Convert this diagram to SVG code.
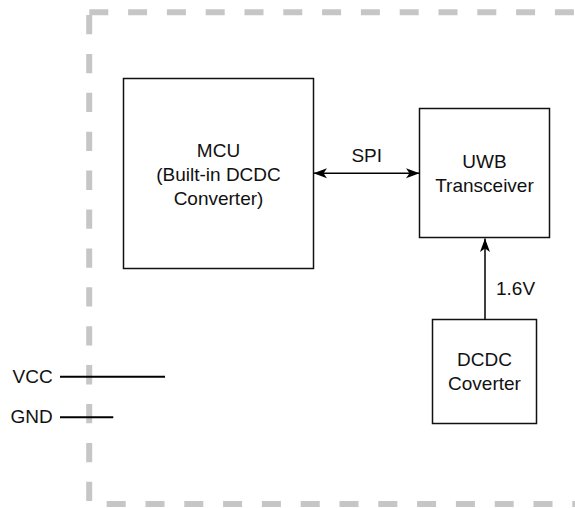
<svg xmlns="http://www.w3.org/2000/svg" width="575" height="508" viewBox="0 0 575 508">
  <style>
    .box { fill: #ffffff; stroke: #111111; stroke-width: 1.5; }
    .label { font-family: "Liberation Sans", Arial, Helvetica, sans-serif; font-size: 19px; fill: #111111; }
    .mid { text-anchor: middle; }
    .end { text-anchor: end; }
    .boundary { fill: none; stroke: #c6c6c6; stroke-width: 6; stroke-linecap: butt; }
    .wire { fill: none; stroke: #000000; stroke-width: 1.5; }
    .pin { fill: none; stroke: #000000; stroke-width: 2; }
  </style>
  <defs>
    <marker id="arrow" viewBox="0 0 14 12" refX="13.5" refY="6" markerWidth="14" markerHeight="12" markerUnits="userSpaceOnUse" orient="auto-start-reverse">
      <path d="M0 1 L13.5 6 L0 11 L3.5 6 Z" fill="#000000"/>
    </marker>
  </defs>

  <!-- board outline (dashed, open on the right) -->
  <g id="board-outline">
    <line class="boundary" x1="89.3" y1="12.2" x2="580" y2="12.2" stroke-dasharray="19 19.8"/>
    <line class="boundary" x1="89.2" y1="15" x2="89.2" y2="502" stroke-dasharray="19.3 19.6"/>
    <line class="boundary" x1="106.7" y1="504" x2="580" y2="504" stroke-dasharray="19 19.8"/>
  </g>

  <!-- power pins -->
  <g id="vcc">
    <text class="label end" x="52.7" y="383.3">VCC</text>
  </g>
  <g id="gnd">
    <text class="label end" x="52.7" y="423.3">GND</text>
  </g>

  <g id="mcu">
    <rect class="box" x="123.5" y="78.5" width="190" height="190"/>
    <text class="label mid" x="218.5" y="156.7">MCU</text>
    <text class="label mid" x="218.5" y="180.7">(Built-in DCDC</text>
    <text class="label mid" x="218.5" y="204.7">Converter)</text>
  </g>

  <g id="uwb">
    <rect class="box" x="419.5" y="108.5" width="130" height="129"/>
    <text class="label mid" x="484.5" y="167.7">UWB</text>
    <text class="label mid" x="484.5" y="191.7">Transceiver</text>
  </g>

  <g id="dcdc">
    <rect class="box" x="432.5" y="319.5" width="104" height="104"/>
    <text class="label mid" x="484.5" y="366">DCDC</text>
    <text class="label mid" x="484.5" y="390">Coverter</text>
  </g>

  <g id="connectors">
    <line class="pin" x1="60" y1="376.7" x2="165" y2="376.7"/>
    <line class="pin" x1="60" y1="417.3" x2="113.3" y2="417.3"/>
    <line class="wire" x1="313.5" y1="173.3" x2="419.5" y2="173.3" marker-start="url(#arrow)" marker-end="url(#arrow)"/>
    <text class="label mid" x="366.7" y="161.7">SPI</text>
    <line class="wire" x1="485" y1="319.5" x2="485" y2="238.5" marker-end="url(#arrow)"/>
    <text class="label" x="496" y="295">1.6V</text>
  </g>
</svg>
